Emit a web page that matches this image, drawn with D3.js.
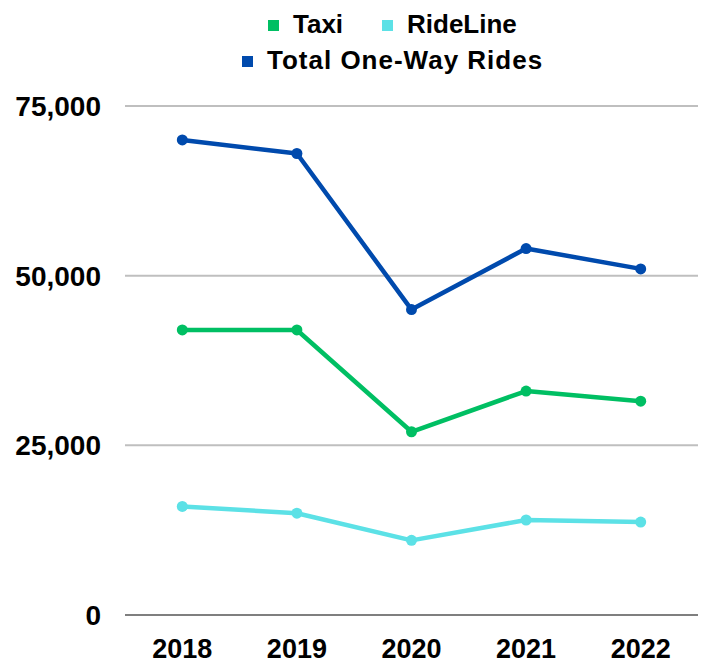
<!DOCTYPE html>
<html>
<head>
<meta charset="utf-8">
<script src="https://cdn.jsdelivr.net/npm/d3@7"></script>
<style>
  body { margin: 0; background: #fff; }
  text { font-family: "Liberation Sans", Arial, sans-serif; font-weight: bold; fill: #000; }
</style>
</head>
<body>
<script>
// data
const years = ["2018", "2019", "2020", "2021", "2022"];
const taxi = [42000, 42000, 27000, 33000, 31500];
const rideLine = [16000, 15000, 11000, 14000, 13700];
const totalRides = [70000, 68000, 45000, 54000, 51000];
const yTicks = [0, 25000, 50000, 75000];

const series = [
  { name: "Taxi", values: taxi, color: "#00bf63" },
  { name: "RideLine", values: rideLine, color: "#5ce1e6" },
  { name: "Total One-Way Rides", values: totalRides, color: "#004aad" }
];

const W = 704, H = 663;
const margin = { left: 125, right: 6, top: 106, bottom: 48 };

const svg = d3.select("body").append("svg")
  .attr("width", W)
  .attr("height", H);

const x = d3.scaleBand()
  .domain(years)
  .range([margin.left, W - margin.right]);

const y = d3.scaleLinear()
  .domain([0, 75000])
  .range([H - margin.bottom, margin.top]);

// gridlines
svg.append("g").selectAll("line")
  .data(yTicks)
  .join("line")
    .attr("x1", margin.left)
    .attr("x2", W - margin.right)
    .attr("y1", d => y(d))
    .attr("y2", d => y(d))
    .attr("stroke", d => d === 0 ? "#7f7f7f" : "#bfbfbf")
    .attr("stroke-width", 2);

// y labels
svg.append("g").selectAll("text")
  .data(yTicks)
  .join("text")
    .attr("x", 101)
    .attr("y", d => y(d))
    .attr("dy", "0.36em")
    .attr("text-anchor", "end")
    .style("font-size", "28px")
    .text(d => d3.format(",")(d));

// x labels
svg.append("g").selectAll("text")
  .data(years)
  .join("text")
    .attr("x", d => x(d) + x.bandwidth() / 2)
    .attr("y", 658)
    .attr("text-anchor", "middle")
    .style("font-size", "27px")
    .text(d => d);

const line = d3.line()
  .x((d, i) => x(years[i]) + x.bandwidth() / 2)
  .y(d => y(d));

series.forEach(s => {
  svg.append("path")
    .datum(s.values)
    .attr("fill", "none")
    .attr("stroke", s.color)
    .attr("stroke-width", 4.5)
    .attr("stroke-linejoin", "round")
    .attr("d", line);

  svg.append("g").selectAll("circle")
    .data(s.values)
    .join("circle")
      .attr("cx", (d, i) => x(years[i]) + x.bandwidth() / 2)
      .attr("cy", d => y(d))
      .attr("r", 5.5)
      .attr("fill", s.color);
});

// legend
const legendPos = [
  { x: 268, y: 33 },
  { x: 382, y: 33 },
  { x: 242, y: 69 }
];
const legend = svg.append("g").selectAll("g")
  .data(series)
  .join("g")
    .attr("transform", (d, i) => `translate(${legendPos[i].x},${legendPos[i].y})`);

legend.append("rect")
  .attr("x", 0)
  .attr("y", -13)
  .attr("width", 11)
  .attr("height", 11)
  .attr("fill", d => d.color);

legend.append("text")
  .attr("x", 25)
  .attr("y", 0)
  .style("font-size", "26px")
  .style("letter-spacing", (d, i) => i === 2 ? "1px" : "0px")
  .text(d => d.name);
</script>
</body>
</html>
